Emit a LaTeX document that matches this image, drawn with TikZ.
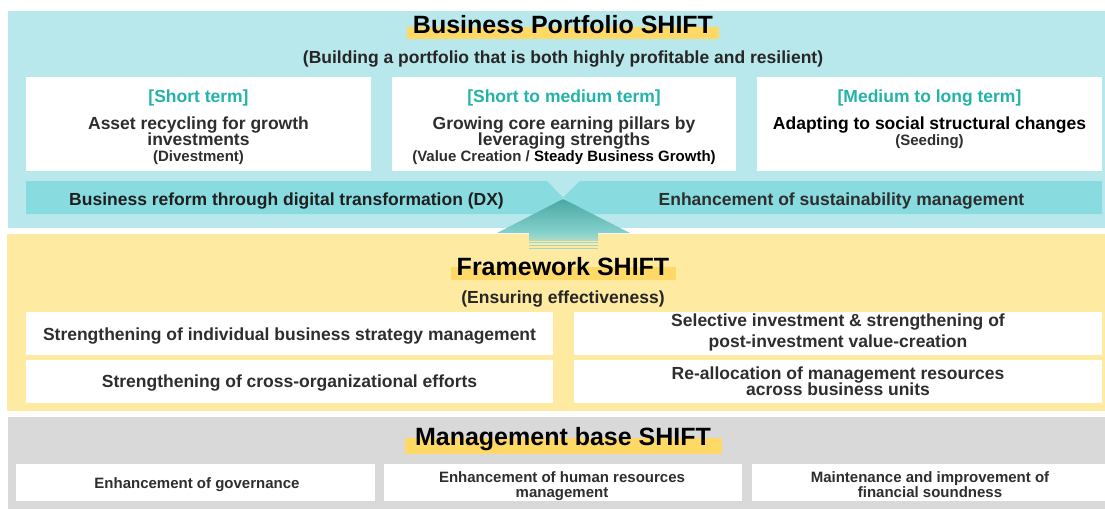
\documentclass[tikz,border=0pt]{standalone}
\usepackage{fontspec}
\setmainfont{Liberation Sans}
\definecolor{cyanpanel}{HTML}{B8E8EC}
\definecolor{bandcol}{HTML}{88DBDF}
\definecolor{yellowpanel}{HTML}{FFEAA2}
\definecolor{graypanel}{HTML}{D9D9D9}
\definecolor{hlcol}{HTML}{FFD965}
\definecolor{termteal}{HTML}{22B3AB}
\definecolor{txt}{HTML}{2E2E2E}
\definecolor{arrowtop}{HTML}{4AA7A3}
\definecolor{arrowbot}{HTML}{86D2CD}
\definecolor{stripecol}{HTML}{9FD6CC}
\pgfdeclarelayer{panels}
\pgfdeclarelayer{hilite}
\pgfsetlayers{panels,hilite,main}
\begin{document}
\begin{tikzpicture}[x=1pt,y=-1pt,
  wbox/.style={rectangle, fill=white, draw=none, inner sep=0pt},
  ttl/.style={font=\fontsize{25}{28}\selectfont\bfseries, text=black, inner sep=0pt, anchor=base},
  sub/.style={font=\fontsize{17.5}{20}\selectfont\bfseries, text=black!85, inner sep=0pt, anchor=base},
  term/.style={font=\fontsize{17.5}{20}\selectfont\bfseries, text=termteal, inner sep=0pt, anchor=base},
  body/.style={font=\fontsize{17.5}{20}\selectfont\bfseries, text=txt, inner sep=0pt, anchor=base},
  small/.style={font=\fontsize{15}{17}\selectfont\bfseries, text=txt, inner sep=0pt, anchor=base},
  hlfill/.style={fill=hlcol, draw=none}
]
\useasboundingbox (0,0) rectangle (1105,509);

% ---------- panels ----------
\begin{pgfonlayer}{panels}
  \fill[cyanpanel] (8,11) rectangle (1105,228);
  \fill[yellowpanel] (7,234) rectangle (1105,411);
  \fill[graypanel] (8,417) rectangle (1105,509);
\end{pgfonlayer}

% ---------- titles ----------
\node[ttl] (t1) at (563,33) {Business Portfolio SHIFT};
\node[sub] (t1s) at (563,63) {(Building a portfolio that is both highly profitable and resilient)};
\node[ttl] (t2) at (563,275) {Framework SHIFT};
\node[sub] (t2s) at (563,303) {(Ensuring effectiveness)};
\node[ttl] (t3) at (563,445) {Management base SHIFT};

\begin{pgfonlayer}{hilite}
  \fill[hlfill] ([xshift=-6pt,yshift=6pt]t1.base west) rectangle ([xshift=6pt,yshift=-6pt]t1.base east);
  \fill[hlfill] ([xshift=-6pt,yshift=8pt]t2.base west) rectangle ([xshift=7pt,yshift=-5pt]t2.base east);
  \fill[hlfill] ([xshift=-10pt,yshift=7pt]t3.base west) rectangle ([xshift=11pt,yshift=-9pt]t3.base east);
\end{pgfonlayer}

% ---------- top white boxes ----------
\node[wbox, minimum width=345pt, minimum height=94pt] (b1) at (198.5,124) {};
\node[wbox, minimum width=344pt, minimum height=94pt] (b2) at (564,124) {};
\node[wbox, minimum width=345pt, minimum height=94pt] (b3) at (929.5,124) {};

\node[term] (b1t) at (198.5,102) {[Short term]};
\node[body] (b1a) at (198.5,129) {Asset recycling for growth};
\node[body] (b1b) at (198.5,145) {investments};
\node[small] (b1c) at (198.5,161) {(Divestment)};

\node[term] (b2t) at (564,102) {[Short to medium term]};
\node[body] (b2a) at (564,129) {Growing core earning pillars by};
\node[body] (b2b) at (564,145) {leveraging strengths};
\node[small] (b2c) at (564,161) {(Value Creation / \textcolor{black}{Steady Business Growth)}};

\node[term] (b3t) at (929.5,102) {[Medium to long term]};
\node[body, text=black] (b3a) at (929.5,129) {Adapting to social structural changes};
\node[small] (b3b) at (929.5,145) {(Seeding)};

% ---------- bands ----------
\fill[bandcol] (26,181) -- (547,181) -- (563,197.5) -- (547,214) -- (26,214) -- cycle;
\fill[bandcol] (1102,181) -- (580,181) -- (563,197.5) -- (580,214) -- (1102,214) -- cycle;
\node[body, text=black!88] (dx) at (286.5,205) {Business reform through digital transformation (DX)};
\node[body] (sus) at (841.5,205) {Enhancement of sustainability management};

% ---------- up arrow ----------
\coordinate (tip) at (563,199);
\shade[top color=arrowtop, bottom color=arrowbot] (tip) -- (630,233) -- (497,233) -- cycle;
\shade[top color=arrowbot, bottom color=stripecol!80!yellowpanel] (529,233) rectangle (598,240.5);
\foreach \yy in {242.5,245.5,248.5}
  \fill[stripecol] (529,\yy-0.8) rectangle (598,\yy+0.8);

% ---------- framework boxes ----------
\node[wbox, minimum width=527pt, minimum height=43pt] (f1) at (289.5,333.5) {};
\node[wbox, minimum width=527pt, minimum height=43pt] (f2) at (289.5,381.5) {};
\node[wbox, minimum width=528pt, minimum height=43pt] (f3) at (838,333) {};
\node[wbox, minimum width=528pt, minimum height=43pt] (f4) at (838,381.5) {};

\node[body] (f1a) at (289.5,340) {Strengthening of individual business strategy management};
\node[body] (f2a) at (289.5,387) {Strengthening of cross-organizational efforts};
\node[body] (f3a) at (838,326) {Selective investment \& strengthening of};
\node[body] (f3b) at (838,347) {post-investment value-creation};
\node[body] (f4a) at (838,379) {Re-allocation of management resources};
\node[body] (f4b) at (838,395) {across business units};

% ---------- management boxes ----------
\node[wbox, minimum width=359pt, minimum height=37pt] (m1) at (195.5,482.5) {};
\node[wbox, minimum width=358pt, minimum height=37pt] (m2) at (563,482.5) {};
\node[wbox, minimum width=353pt, minimum height=37pt] (m3) at (928.5,482.5) {};

\node[small] (m1a) at (197,488) {Enhancement of governance};
\node[small] (m2a) at (562,482) {Enhancement of human resources};
\node[small] (m2b) at (562,497) {management};
\node[small] (m3a) at (930,482) {Maintenance and improvement of};
\node[small] (m3b) at (930,497) {financial soundness};
\end{tikzpicture}
\end{document}
